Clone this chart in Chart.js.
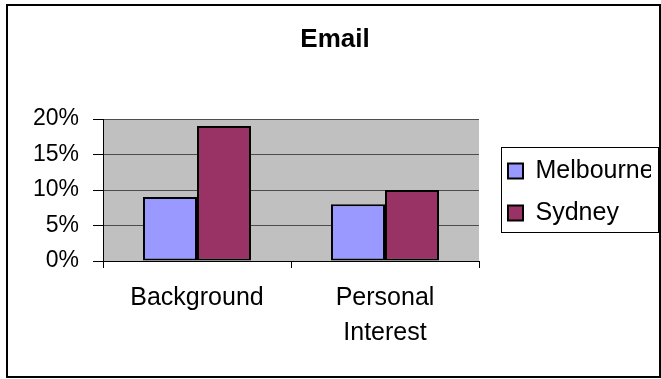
<!DOCTYPE html>
<html>
<head>
<meta charset="utf-8">
<title>Email</title>
<script src="https://cdn.jsdelivr.net/npm/chart.js@4.4.1/dist/chart.umd.min.js"></script>
<style>
    html, body { margin: 0; padding: 0; background: #fff; }
    canvas { display: block; }
</style>
</head>
<body>
<canvas id="emailChart" width="661" height="379"></canvas>
<script>
// Categories and series (percent)
const categories = ['Background', ['Personal', 'Interest']];
const melbourne = [9, 8];
const sydney = [19, 10];
const yTicks = [0, 5, 10, 15, 20];

const FONT = '"Liberation Sans", Arial, sans-serif';

// grey plot area plus the outer frame and the legend frame
const frames = {
    id: 'frames',
    beforeDraw(chart) {
        const { ctx, chartArea: a } = chart;
        ctx.save();
        ctx.fillStyle = '#c0c0c0';
        ctx.fillRect(a.left, a.top, a.right - a.left, a.bottom - a.top);
        ctx.restore();
    },
    afterLayout(chart) {
        // push the legend a little away from the plot
        const lg = chart.legend;
        lg.left += 12; lg.right += 12;
        lg.top += 2; lg.bottom += 2;
    },
    afterDraw(chart) {
        const ctx = chart.ctx;
        ctx.save();
        ctx.strokeStyle = '#000';
        ctx.lineWidth = 1;
        ctx.strokeRect(501.5, 147.5, 157, 85);
        ctx.lineWidth = 2;
        ctx.strokeRect(7, 5, 653, 372);
        ctx.restore();
    }
};

const ctx = document.getElementById('emailChart').getContext('2d');
const emailChart = new Chart(ctx, {
    type: 'bar',
    data: {
        labels: categories,
        datasets: [{
            label: 'Melbourne',
            data: melbourne,
            backgroundColor: '#9999ff',
            borderColor: '#000',
            borderWidth: 2,
            borderSkipped: false
        }, {
            label: 'Sydney',
            data: sydney,
            backgroundColor: '#993366',
            borderColor: '#000',
            borderWidth: 2,
            borderSkipped: false
        }]
    },
    options: {
        responsive: false,
        animation: false,
        datasets: {
            bar: { barPercentage: 1.0, categoryPercentage: 0.5745 }
        },
        layout: {
            padding: { left: 31, right: 22, top: 0, bottom: 0 }
        },
        plugins: {
            title: {
                display: true,
                text: 'Email',
                color: '#000',
                font: { family: FONT, size: 26, weight: 'bold', lineHeight: 1.2 },
                padding: { top: 24, bottom: 63.8 }
            },
            legend: {
                display: true,
                position: 'right',
                fullSize: false,
                maxWidth: 160,
                labels: {
                    boxWidth: 15,
                    boxHeight: 15,
                    padding: 17,
                    color: '#000',
                    font: { family: FONT, size: 25 }
                }
            },
            tooltip: { enabled: false }
        },
        scales: {
            x: {
                offset: true,
                afterFit(scale) { scale.height = 118; },
                border: { display: true, color: '#000', width: 1 },
                grid: {
                    offset: true,
                    drawOnChartArea: true,
                    tickLength: 7,
                    tickColor: '#000',
                    color: (c) => c.index === categories.length ? '#808080' : 'rgba(0,0,0,0)'
                },
                ticks: {
                    color: '#000',
                    padding: 13,
                    maxRotation: 0,
                    font: { family: FONT, size: 25, lineHeight: 1.4 }
                }
            },
            y: {
                min: yTicks[0],
                max: yTicks[yTicks.length - 1],
                afterFit(scale) { scale.width = 72; },
                afterBuildTicks(scale) { scale.ticks = yTicks.map(v => ({ value: v })); },
                border: { display: true, color: '#000', width: 1 },
                grid: {
                    color: '#4d4d4d',
                    tickColor: '#000',
                    tickLength: 10
                },
                ticks: {
                    color: '#000',
                    padding: 14,
                    font: { family: FONT, size: 23 },
                    callback: function(value) {
                        return value + '%';
                    }
                }
            }
        }
    },
    plugins: [frames]
});
</script>
</body>
</html>
